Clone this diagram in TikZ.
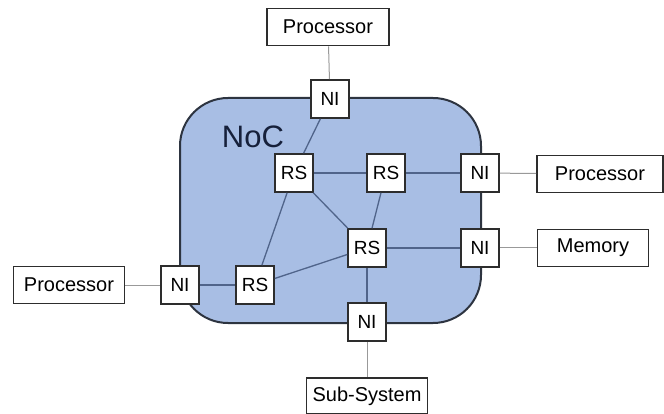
\documentclass[tikz,border=0pt]{standalone}
\usepackage{fontspec}
\setmainfont{Liberation Sans}
\usepackage{tikz}

\definecolor{nocfill}{RGB}{168,190,228}
\definecolor{nocedge}{RGB}{45,52,64}
\definecolor{nocink}{RGB}{22,32,58}
\definecolor{linkblue}{RGB}{80,100,138}
\definecolor{boxedge}{RGB}{45,45,45}

\begin{document}
\begin{tikzpicture}[x=1pt, y=-1pt,
    unitbox/.style={draw=boxedge, line width=1.6pt, fill=white, minimum width=38pt,
                    minimum height=38pt, inner sep=0pt, font=\fontsize{19}{21}\selectfont},
    hostbox/.style={draw=boxedge, line width=1.6pt, fill=white, minimum height=37pt,
                    inner sep=0pt, font=\fontsize{20}{22}\selectfont},
    link/.style={draw=linkblue, line width=1.3pt},
    extlink/.style={draw=gray!80, line width=1pt}]
    \useasboundingbox (0,0) rectangle (664,414);

    % The network-on-chip area
    \draw[fill=nocfill, draw=nocedge, line width=2pt, rounded corners=48pt]
        (180,98) rectangle (481,323);
    \node[text=nocink, font=\fontsize{31}{33}\selectfont] (noc) at (253,137) {NoC};

    % Routers
    \node[unitbox] (rsA) at (294,173) {RS};
    \node[unitbox] (rsB) at (386,173) {RS};
    \node[unitbox] (rsC) at (367,248) {RS};
    \node[unitbox] (rsD) at (255,285) {RS};

    % Network interfaces on the border
    \node[unitbox] (niT)  at (330,99)  {NI};
    \node[unitbox] (niR1) at (480,173) {NI};
    \node[unitbox] (niR2) at (480,248) {NI};
    \node[unitbox] (niL)  at (180,285) {NI};
    \node[unitbox] (niB)  at (367,322) {NI};

    % Attached modules
    \node[hostbox, minimum width=122pt] (procT) at (328,27)  {Processor};
    \node[hostbox, minimum width=126pt] (procR) at (600,174) {Processor};
    \node[hostbox, minimum width=111pt] (mem)   at (593,248) {Memory};
    \node[hostbox, minimum width=111pt] (procL) at (69,285)  {Processor};
    \node[hostbox, minimum width=121pt, minimum height=36pt] (sub) at (367,396) {Sub-System};

    % Links inside the NoC
    \draw[link] (niT) -- (rsA);
    \draw[link] (rsA) -- (rsB);
    \draw[link] (rsB) -- (niR1);
    \draw[link] (rsA) -- (rsC);
    \draw[link] (rsA) -- (rsD);
    \draw[link] (rsB) -- (rsC);
    \draw[link] (rsC) -- (niR2);
    \draw[link] (rsC) -- (rsD);
    \draw[link] (rsC) -- (niB);
    \draw[link] (niL) -- (rsD);

    % Links to the modules
    \draw[extlink] (procT) -- (niT);
    \draw[extlink] (niR1) -- (procR);
    \draw[extlink] (niR2) -- (mem);
    \draw[extlink] (procL) -- (niL);
    \draw[extlink] (niB) -- (sub);
\end{tikzpicture}
\end{document}
